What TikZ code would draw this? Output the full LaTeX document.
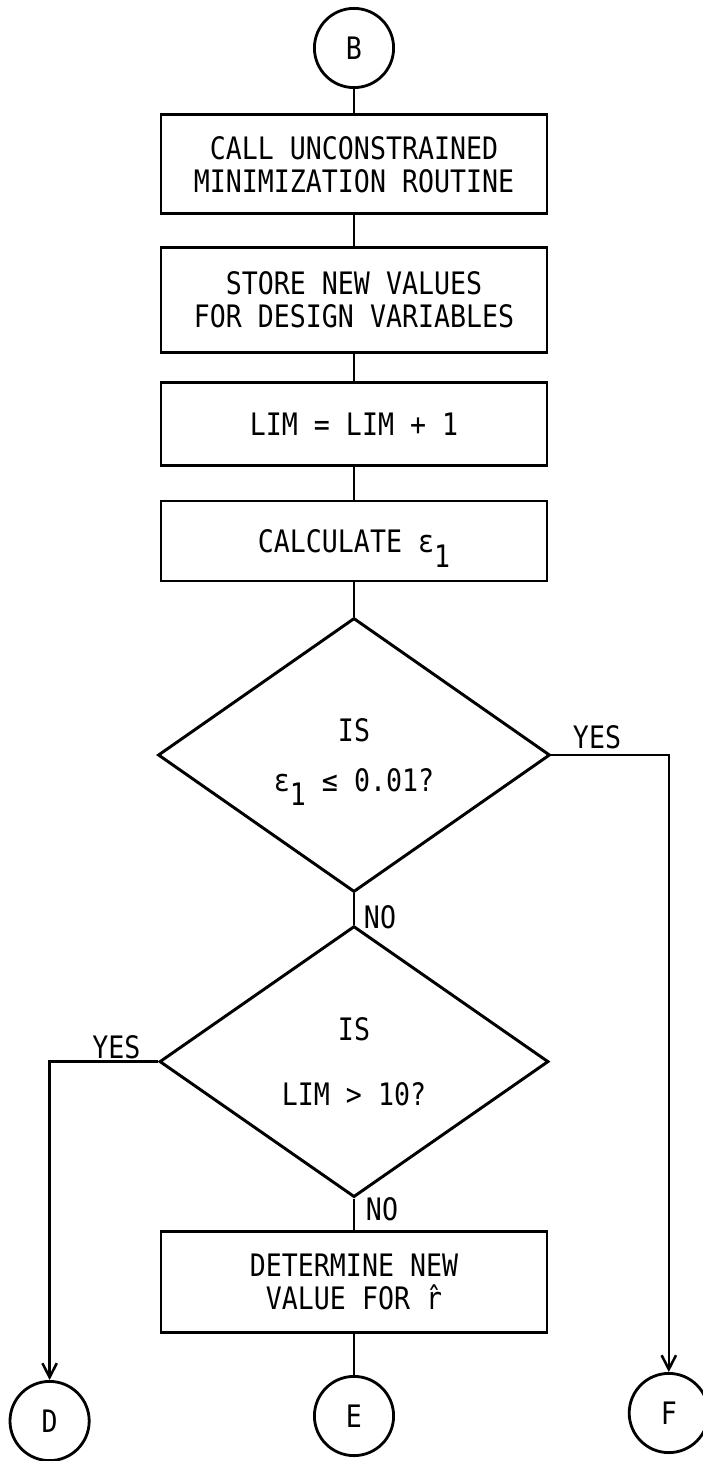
\documentclass[tikz,border=0pt]{standalone}
\usepackage{fontspec}
\setmainfont{DejaVu Sans Mono}[FakeStretch=0.86]
\usetikzlibrary{shapes.geometric,arrows.meta}
\begin{document}
\begin{tikzpicture}[x=1cm,y=1cm,
  font=\fontsize{22}{23.5}\selectfont,
  procbox/.style={draw, line width=2.1pt, align=center, minimum width=9.65cm, inner sep=0pt},
  testbox/.style={draw, diamond, line width=2.1pt, align=center, inner sep=0pt},
  connbox/.style={draw, circle, line width=2pt, minimum size=1.98cm, inner sep=0pt},
  conn/.style={line width=1.8pt},
  >={Straight Barb[length=0.35cm,width=0.36cm]}]
\useasboundingbox (0,0) rectangle (17.55,-36.525);

\node[connbox] (b) at (8.85,-1.2) {B};

\node[procbox, minimum height=2.475cm] (call) at (8.85,-4.11)
{CALL UNCONSTRAINED\\MINIMIZATION ROUTINE};

\node[procbox, minimum height=2.625cm] (store) at (8.85,-7.49)
{STORE NEW VALUES\\FOR DESIGN VARIABLES};

\node[procbox, minimum height=2.075cm] (lim) at (8.85,-10.61)
{LIM = LIM + 1};

\node[procbox, minimum height=2.0cm] (calc) at (8.85,-13.525)
{CALCULATE ε\raisebox{-10.5pt}[0pt][0pt]{1}};

\node[testbox, minimum width=9.8cm, minimum height=6.85cm] (t1) at (8.85,-18.875)
{IS\\[12pt]ε\raisebox{-10.5pt}[0pt][0pt]{1} ≤ 0.01?};

\node[testbox, minimum width=9.725cm, minimum height=6.775cm] (t2) at (8.85,-26.54)
{IS\\[22.5pt]LIM > 10?};

\node[procbox, minimum height=2.525cm] (newr) at (8.85,-32.06)
{DETERMINE NEW\\VALUE FOR \^{r}};

\node[connbox] (d) at (1.24,-35.525) {D};
\node[connbox] (e) at (8.85,-35.4) {E};
\node[connbox] (f) at (16.72,-35.325) {F};

\node (y1) at (14.925,-18.44) {YES};
\node (n1) at (9.5,-22.925) {NO};
\node (y2) at (2.91,-26.175) {YES};
\node (n2) at (9.55,-30.225) {NO};

\draw[conn] (b) -- (call);
\draw[conn] (call) -- (store);
\draw[conn] (store) -- (lim);
\draw[conn] (lim) -- (calc);
\draw[conn] (calc) -- (t1);
\draw[conn] (t1) -- (t2);
\draw[conn] (t2) -- (newr);
\draw[conn] (newr) -- (e);
\draw[conn, ->] (t1.east) -| (f);
\draw[conn, ->] (t2.west) -| (d);
\end{tikzpicture}
\end{document}
